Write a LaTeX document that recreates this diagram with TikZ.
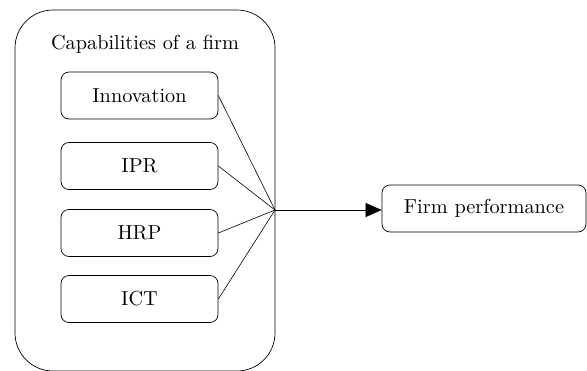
\documentclass[tikz,border=0pt]{standalone}
\usepackage{fontspec}
\setmainfont{lmroman10-regular.otf}
\usetikzlibrary{arrows.meta}
\begin{document}
\begin{tikzpicture}[x=1pt,y=-1pt,
  every node/.style={font=\fontsize{20.3}{24}\selectfont},
  capbox/.style={draw, line width=0.7pt, rounded corners=8pt, minimum width=157pt, minimum height=47pt, inner sep=0pt},
  outerbox/.style={draw, line width=0.7pt, rounded corners=38pt, minimum width=260pt, minimum height=361pt, inner sep=0pt},
  link/.style={line width=0.6pt}]
\useasboundingbox (0,0) rectangle (587,370);
\node[outerbox] (outer) at (145,190.5) {};
\node (title) at (145,44) {Capabilities of a firm};
\node[capbox] (inno) at (139.5,95.5) {Innovation};
\node[capbox] (ipr) at (139.5,166) {IPR};
\node[capbox] (hrp) at (139.5,233) {HRP};
\node[capbox] (ict) at (139.5,299) {ICT};
\coordinate (J) at (275,210);
\node[capbox, minimum width=204pt] (perf) at (484,208.5) {Firm performance};
\draw[link] (inno.east) -- (J);
\draw[link] (ipr.east) -- (J);
\draw[link] (hrp.east) -- (J);
\draw[link] (ict.east) -- (J);
\draw[link, -{Triangle[length=16pt,width=14pt]}] (J) -- (J -| perf.west);
\end{tikzpicture}
\end{document}
